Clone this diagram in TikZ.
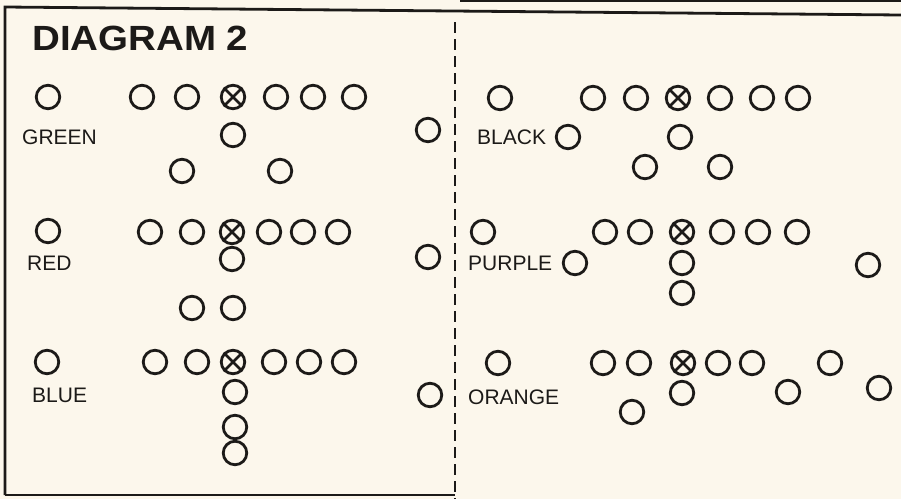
\documentclass[tikz,border=0pt]{standalone}
\usepackage{fontspec}
\setmainfont{Liberation Sans}
\definecolor{paper}{HTML}{FCF7EC}
\definecolor{ink}{HTML}{1C1A18}
\tikzset{
  pl/.style={circle, draw=ink, line width=2.8pt, minimum size=23.5pt, inner sep=0pt},
  lbl/.style={anchor=west, inner sep=0pt, text=ink, font=\fontsize{21}{21}\selectfont},
  frame/.style={draw=ink, line width=2.8pt},
  divider/.style={draw=ink, line width=2pt, dash pattern=on 11pt off 6pt},
}
\newcommand{\plx}[2]{\node[pl] (#1) at (#2) {}; \draw[ink, line width=2.6pt] (#1.north west) -- (#1.south east) (#1.north east) -- (#1.south west);}
\begin{document}
\begin{tikzpicture}[x=1pt,y=-1pt]
\fill[paper] (0,0) rectangle (901,499);
\useasboundingbox (0,0) rectangle (901,499);
% frame
\draw[frame] (5,495) -- (5,7) -- (901,15);
\draw[frame] (5,495) -- (455,495);
\draw[ink, line width=2.4pt] (460,1) -- (901,1);
\draw[divider] (455,22) -- (455,499);
% title
\node[anchor=west, inner sep=0pt, text=ink, font=\fontsize{35}{35}\selectfont\bfseries, xscale=1.1] (title) at (32,38) {DIAGRAM 2};
% GREEN
\node[lbl] (lgreen) at (22,137) {GREEN};
\node[pl] (g0) at (48,97) {};
\node[pl] (g1) at (142,97) {};
\node[pl] (g2) at (187,97) {};
\plx{gx}{233,97}
\node[pl] (g3) at (276,97) {};
\node[pl] (g4) at (313,97) {};
\node[pl] (g5) at (354,97) {};
\node[pl] (g6) at (233,135) {};
\node[pl] (g7) at (182,171) {};
\node[pl] (g8) at (280,171) {};
\node[pl] (g9) at (428,130) {};
% RED
\node[lbl] (lred) at (27,263) {RED};
\node[pl] (r0) at (48,231) {};
\node[pl] (r1) at (150,232) {};
\node[pl] (r2) at (192,232) {};
\plx{rx}{232,232}
\node[pl] (r3) at (269,232) {};
\node[pl] (r4) at (303,232) {};
\node[pl] (r5) at (338,232) {};
\node[pl] (r6) at (232,259) {};
\node[pl] (r7) at (192,308) {};
\node[pl] (r8) at (233,308) {};
\node[pl] (r9) at (428,257) {};
% BLUE
\node[lbl] (lblue) at (32,395) {BLUE};
\node[pl] (b0) at (47,362) {};
\node[pl] (b1) at (155,362) {};
\node[pl] (b2) at (197,362) {};
\plx{bx}{233,362}
\node[pl] (b3) at (274,362) {};
\node[pl] (b4) at (309,362) {};
\node[pl] (b5) at (344,362) {};
\node[pl] (b6) at (235,392) {};
\node[pl] (b7) at (235,427) {};
\node[pl] (b8) at (235,453) {};
\node[pl] (b9) at (430,395) {};
% BLACK
\node[lbl] (lblack) at (477,137) {BLACK};
\node[pl] (k0) at (500,98) {};
\node[pl] (k1) at (593,98) {};
\node[pl] (k2) at (636,98) {};
\plx{kx}{678,98}
\node[pl] (k3) at (720,98) {};
\node[pl] (k4) at (762,98) {};
\node[pl] (k5) at (798,98) {};
\node[pl] (k6) at (568,137) {};
\node[pl] (k7) at (680,137) {};
\node[pl] (k8) at (645,167) {};
\node[pl] (k9) at (720,167) {};
% PURPLE
\node[lbl] (lpurple) at (468,263) {PURPLE};
\node[pl] (p0) at (483,232) {};
\node[pl] (p1) at (605,232) {};
\node[pl] (p2) at (640,232) {};
\plx{px}{682,232}
\node[pl] (p3) at (722,232) {};
\node[pl] (p4) at (758,232) {};
\node[pl] (p5) at (797,232) {};
\node[pl] (p6) at (575,263) {};
\node[pl] (p7) at (682,263) {};
\node[pl] (p8) at (682,293) {};
\node[pl] (p9) at (868,265) {};
% ORANGE
\node[lbl] (lorange) at (468,397) {ORANGE};
\node[pl] (o0) at (498,363) {};
\node[pl] (o1) at (603,363) {};
\node[pl] (o2) at (639,363) {};
\plx{ox}{683,363}
\node[pl] (o3) at (718,363) {};
\node[pl] (o4) at (752,363) {};
\node[pl] (o5) at (830,363) {};
\node[pl] (o6) at (682,393) {};
\node[pl] (o7) at (788,392) {};
\node[pl] (o8) at (879,388) {};
\node[pl] (o9) at (632,412) {};
\end{tikzpicture}
\end{document}
